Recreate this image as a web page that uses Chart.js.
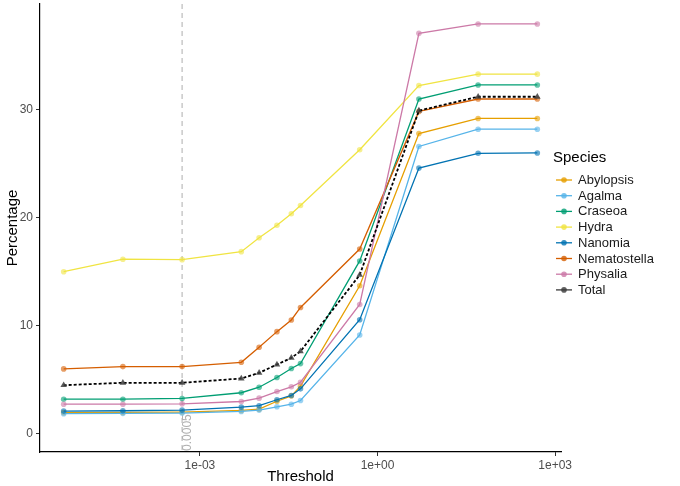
<!DOCTYPE html>
<html>
<head>
<meta charset="utf-8">
<script src="https://cdn.jsdelivr.net/npm/chart.js@4"></script>
<style>
  html, body { margin: 0; padding: 0; background: #fff; }
  #wrap { width: 680px; height: 486px; }
</style>
</head>
<body>
<div id="wrap"><canvas id="chart" width="680" height="486"></canvas></div>
<script>
const thresholds = [5e-6, 5e-5, 5e-4, 5e-3, 0.01, 0.02, 0.035, 0.05, 0.5, 5, 50, 500];

const species = ['Abylopsis', 'Agalma', 'Craseoa', 'Hydra', 'Nanomia', 'Nematostella', 'Physalia', 'Total'];

const abylopsis    = [1.95, 1.97, 2.00, 2.15, 2.27, 3.00, 3.50, 4.40, 13.7, 27.8, 29.2, 29.2];
const agalma       = [1.85, 1.88, 1.91, 2.06, 2.18, 2.49, 2.73, 3.07, 9.14, 26.6, 28.2, 28.2];
const craseoa      = [3.19, 3.19, 3.26, 3.79, 4.30, 5.20, 6.03, 6.49, 16.0, 31.0, 32.3, 32.3];
const hydra        = [15.0, 16.16, 16.12, 16.86, 18.15, 19.3, 20.37, 21.14, 26.3, 32.25, 33.3, 33.3];
const nanomia      = [2.09, 2.12, 2.18, 2.46, 2.59, 3.14, 3.54, 4.15, 10.55, 24.6, 25.97, 26.0];
const nematostella = [6.00, 6.21, 6.21, 6.61, 8.00, 9.45, 10.53, 11.69, 17.1, 29.85, 31.0, 31.0];
const physalia     = [2.73, 2.73, 2.76, 2.98, 3.29, 3.90, 4.34, 4.76, 11.97, 37.08, 37.95, 37.95];
const total        = [4.49, 4.71, 4.71, 5.11, 5.63, 6.40, 7.02, 7.63, 14.7, 29.92, 31.21, 31.21];

const series = [abylopsis, agalma, craseoa, hydra, nanomia, nematostella, physalia, total];
const colors = ['#E69F00', '#56B4E9', '#009E73', '#F0E442', '#0072B2', '#D55E00', '#CC79A7', '#000000'];

const xTicks = [1e-3, 1, 1e3];
const yTicks = [0, 10, 20, 30];
const cutoff = 5e-4;

const FONT = '"Liberation Sans", Arial, sans-serif';

function fade(hex, a) {
    const n = parseInt(hex.slice(1), 16);
    return 'rgba(' + (n >> 16) + ',' + ((n >> 8) & 255) + ',' + (n & 255) + ',' + a + ')';
}

const datasets = series.map((vals, i) => {
    const isTotal = species[i] === 'Total';
    return {
        label: species[i],
        data: vals.map((v, j) => ({x: thresholds[j], y: v})),
        borderColor: colors[i],
        borderWidth: isTotal ? 1.8 : 1.3,
        borderDash: isTotal ? [3, 2] : [],
        pointStyle: isTotal ? 'triangle' : 'circle',
        pointRadius: isTotal ? 3.8 : 2.8,
        pointBackgroundColor: isTotal ? 'rgba(60,60,60,0.85)' : fade(colors[i], 0.6),
        pointBorderWidth: 0,
        tension: 0,
        order: -i
    };
});

// dashed vertical line at the cutoff, with its rotated label
const cutoffLine = {
    id: 'cutoffLine',
    beforeDatasetsDraw(chart) {
        const {ctx, chartArea, scales} = chart;
        const x = scales.x.getPixelForValue(cutoff);
        ctx.save();
        ctx.strokeStyle = '#b5b5b5';
        ctx.lineWidth = 1.1;
        ctx.setLineDash([5, 4]);
        ctx.beginPath();
        ctx.moveTo(x, chartArea.top);
        ctx.lineTo(x, chartArea.bottom);
        ctx.stroke();
        ctx.translate(x + 6, scales.y.getPixelForValue(-1.6));
        ctx.rotate(-Math.PI / 2);
        ctx.fillStyle = '#b0b0b0';
        ctx.font = '12px ' + FONT;
        ctx.textAlign = 'left';
        ctx.textBaseline = 'middle';
        ctx.fillText('0.0005', 0, 0);
        ctx.restore();
    }
};

// ggplot style legend to the right of the panel
const sideLegend = {
    id: 'sideLegend',
    afterDraw(chart) {
        const ctx = chart.ctx;
        ctx.save();
        ctx.fillStyle = '#000';
        ctx.font = '15px ' + FONT;
        ctx.textBaseline = 'middle';
        ctx.fillText('Species', 553, 158);
        ctx.font = '13px ' + FONT;
        chart.data.datasets.forEach((ds, i) => {
            const y = 180 + i * 15.7;
            const c = ds.label === 'Total' ? '#3a3a3a' : ds.borderColor;
            ctx.strokeStyle = c;
            ctx.lineWidth = 1.3;
            ctx.beginPath();
            ctx.moveTo(556, y);
            ctx.lineTo(572, y);
            ctx.stroke();
            ctx.fillStyle = fade(c, 0.8);
            ctx.beginPath();
            ctx.arc(564, y, 2.8, 0, Math.PI * 2);
            ctx.fill();
            ctx.fillStyle = '#1a1a1a';
            ctx.fillText(ds.label, 578, y + 0.5);
        });
        ctx.restore();
    }
};

const config = {
    type: 'line',
    data: {datasets: datasets},
    options: {
        responsive: false,
        animation: false,
        layout: {padding: {top: 3, right: 119, left: 0, bottom: 0}},
        scales: {
            x: {
                type: 'logarithmic',
                min: 1.99e-6,
                max: 1256,
                bounds: 'data',
                afterBuildTicks: (scale) => { scale.ticks = xTicks.map(v => ({value: v})); },
                afterFit: (scale) => { scale.height = 34; },
                ticks: {
                    color: '#4d4d4d',
                    font: {family: FONT, size: 12},
                    padding: 2,
                    maxRotation: 0,
                    callback: (v) => {
                        const e = Math.round(Math.log10(v));
                        const s = Math.abs(e) < 10 ? '0' + Math.abs(e) : '' + Math.abs(e);
                        return '1e' + (e < 0 ? '-' : '+') + s;
                    }
                },
                grid: {display: true, drawOnChartArea: false, drawTicks: true, tickLength: 4, color: '#333'},
                border: {display: true, color: '#000', width: 1.2},
                title: {
                    display: true,
                    text: 'Threshold',
                    color: '#000',
                    font: {family: FONT, size: 15},
                    padding: {top: 0, bottom: 0}
                }
            },
            y: {
                type: 'linear',
                min: -1.7,
                max: 39.8,
                bounds: 'data',
                afterBuildTicks: (scale) => { scale.ticks = yTicks.map(v => ({value: v})); },
                afterFit: (scale) => {
                    scale.width = 40;
                    scale.paddingTop = 0;
                    scale.paddingBottom = 0;
                },
                ticks: {
                    color: '#4d4d4d',
                    font: {family: FONT, size: 12},
                    padding: 3
                },
                grid: {display: true, drawOnChartArea: false, drawTicks: true, tickLength: 4, color: '#333'},
                border: {display: true, color: '#000', width: 1.2},
                title: {
                    display: true,
                    text: 'Percentage',
                    color: '#000',
                    font: {family: FONT, size: 15},
                    padding: {top: 4, bottom: 0}
                }
            }
        },
        plugins: {
            legend: {display: false},
            tooltip: {enabled: false}
        }
    },
    plugins: [cutoffLine, sideLegend]
};

const chart = new Chart(document.getElementById('chart'), config);
</script>
</body>
</html>
